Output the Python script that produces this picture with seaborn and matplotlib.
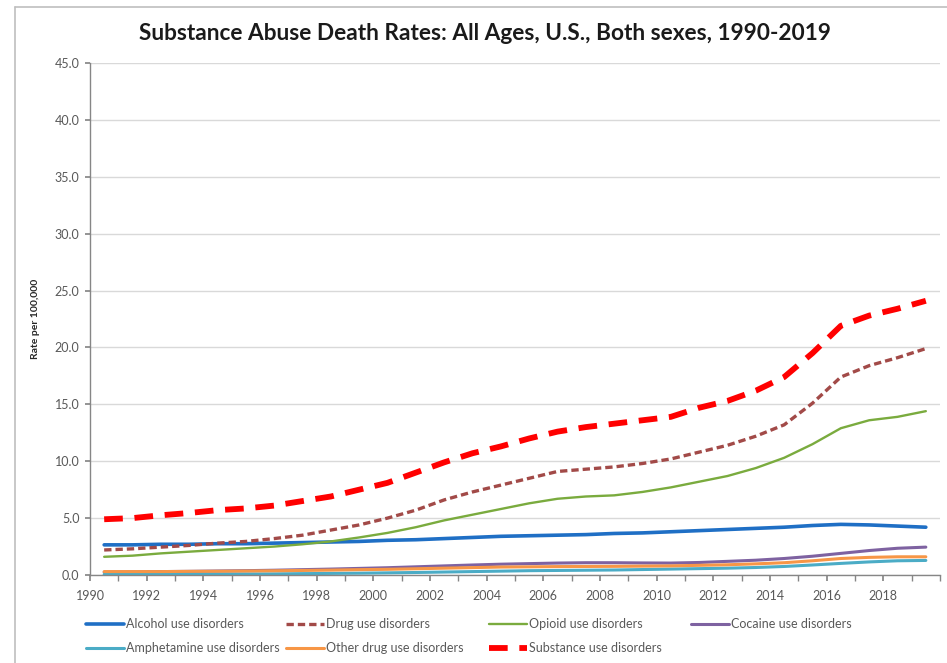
import numpy as np
import pandas as pd
import matplotlib
matplotlib.use("Agg")
import matplotlib.pyplot as plt
from matplotlib.lines import Line2D
import seaborn as sns

years = list(range(1990, 2020))

alcohol = [2.65, 2.65, 2.7, 2.7, 2.75, 2.75, 2.8, 2.85, 2.9, 2.95,
           3.05, 3.1, 3.2, 3.3, 3.4, 3.45, 3.5, 3.55, 3.65, 3.7,
           3.8, 3.9, 4.0, 4.1, 4.2, 4.35, 4.45, 4.4, 4.3, 4.2]
drug = [2.2, 2.3, 2.45, 2.6, 2.8, 2.95, 3.2, 3.5, 3.95, 4.4,
        5.0, 5.7, 6.6, 7.3, 7.9, 8.5, 9.1, 9.3, 9.5, 9.8,
        10.2, 10.8, 11.4, 12.2, 13.2, 15.1, 17.4, 18.4, 19.1, 19.9]
opioid = [1.6, 1.7, 1.9, 2.05, 2.2, 2.35, 2.5, 2.7, 2.95, 3.3,
          3.7, 4.2, 4.8, 5.3, 5.8, 6.3, 6.7, 6.9, 7.0, 7.3,
          7.7, 8.2, 8.7, 9.4, 10.3, 11.5, 12.9, 13.6, 13.9, 14.4]
cocaine = [0.25, 0.27, 0.3, 0.32, 0.35, 0.38, 0.42, 0.47, 0.52, 0.58,
           0.64, 0.72, 0.8, 0.88, 0.95, 1.0, 1.05, 1.08, 1.08, 1.06,
           1.05, 1.1, 1.2, 1.3, 1.45, 1.65, 1.9, 2.15, 2.35, 2.45]
amphetamine = [0.05, 0.05, 0.06, 0.07, 0.08, 0.09, 0.1, 0.12, 0.14, 0.16,
               0.19, 0.22, 0.26, 0.3, 0.34, 0.38, 0.4, 0.42, 0.44, 0.48,
               0.52, 0.56, 0.6, 0.66, 0.75, 0.88, 1.02, 1.15, 1.25, 1.28]
other_drug = [0.3, 0.3, 0.3, 0.32, 0.33, 0.35, 0.37, 0.4, 0.43, 0.47,
              0.5, 0.55, 0.6, 0.65, 0.7, 0.72, 0.74, 0.75, 0.76, 0.78,
              0.8, 0.85, 0.9, 0.98, 1.08, 1.25, 1.45, 1.55, 1.6, 1.6]
substance = [4.9, 5.0, 5.25, 5.45, 5.7, 5.85, 6.1, 6.5, 6.9, 7.5,
             8.1, 9.0, 9.9, 10.7, 11.3, 12.0, 12.6, 13.0, 13.3, 13.6,
             13.9, 14.7, 15.3, 16.2, 17.4, 19.5, 21.9, 22.8, 23.4, 24.1]

series = [
    ("Alcohol use disorders", alcohol, "#1F6FC5", 2.6, "-"),
    ("Drug use disorders", drug, "#A24A48", 2.4, (0, (2.2, 1.2))),
    ("Opioid use disorders", opioid, "#7AAB3E", 1.7, "-"),
    ("Cocaine use disorders", cocaine, "#7E62A1", 2.2, "-"),
    ("Amphetamine use disorders", amphetamine, "#4BACC6", 2.2, "-"),
    ("Other drug use disorders", other_drug, "#F79646", 2.2, "-"),
    ("Substance use disorders", substance, "#FF0000", 4.2, (0, (3.2, 2.0))),
]

sns.set_theme(style="white")
plt.rcParams['font.family'] = ['Lato', 'DejaVu Sans']

fig = plt.figure(figsize=(9.47, 6.63), dpi=100)
ax = fig.add_axes([90/947, 88/663, 850/947, 512/663])

handles = {}
for name, vals, color, lw, ls in series:
    df = pd.DataFrame({"year": np.array(years) + 0.5, "rate": vals})
    sns.lineplot(data=df, x="year", y="rate", ax=ax, color=color,
                 linewidth=lw, linestyle=ls, label=name, legend=False)
    handles[name] = Line2D([0], [0], color=color, lw=lw, linestyle=ls)

ax.set_xlim(1990, 2020)
ax.set_ylim(0, 45)
ax.set_yticks(np.arange(0, 46, 5))
ax.set_yticklabels([f"{v:.1f}" for v in np.arange(0, 46, 5)], fontsize=9, color="#595959")
ax.set_xticks(range(1990, 2021), minor=True)
ax.set_xticks(range(1990, 2020, 2))
ax.set_xticklabels([str(y) for y in range(1990, 2020, 2)], fontsize=9, color="#595959")
ax.tick_params(axis="x", which="both", direction="out", length=4, color="#868686",
               bottom=True, pad=7)
ax.tick_params(axis="y", direction="out", length=3.5, color="#868686", left=True, pad=4)
ax.grid(axis="y", color="#D9D9D9", linewidth=1)
ax.set_axisbelow(True)
for s in ["top", "right"]:
    ax.spines[s].set_visible(False)
for s in ["left", "bottom"]:
    ax.spines[s].set_color("#868686")
    ax.spines[s].set_linewidth(1)
ax.set_xlabel("")
ax.set_ylabel("Rate per 100,000", fontsize=7.5, fontweight="bold")
ax.yaxis.set_label_coords(-50/850, 0.5)

fig.text(485/947, 1 - 33/663, "Substance Abuse Death Rates: All Ages, U.S., Both sexes, 1990-2019",
         ha="center", va="center", fontsize=16.3, fontweight="bold", color="#1A1A1A")

# legend: four columns at fixed x positions, like the Excel layout
columns = [
    (86, ["Alcohol use disorders", "Amphetamine use disorders"]),
    (286, ["Drug use disorders", "Other drug use disorders"]),
    (489, ["Opioid use disorders", "Substance use disorders"]),
    (691, ["Cocaine use disorders"]),
]
for x0, names in columns:
    fig.legend([handles[n] for n in names], names, loc="upper left",
               bbox_to_anchor=(x0/947, 1 - 618/663), frameon=False,
               fontsize=9, handlelength=3.0, handletextpad=0.2,
               labelspacing=1.0, labelcolor="#595959",
               borderaxespad=0, borderpad=0)

# chart frame (left and top edges)
fig.add_artist(Line2D([15/947, 15/947], [0, 1 - 7/663], transform=fig.transFigure,
                      color="#BFBFBF", lw=1.2))
fig.add_artist(Line2D([15/947, 1], [1 - 7/663, 1 - 7/663], transform=fig.transFigure,
                      color="#BFBFBF", lw=1.2))

fig.savefig("out.png", dpi=100)
